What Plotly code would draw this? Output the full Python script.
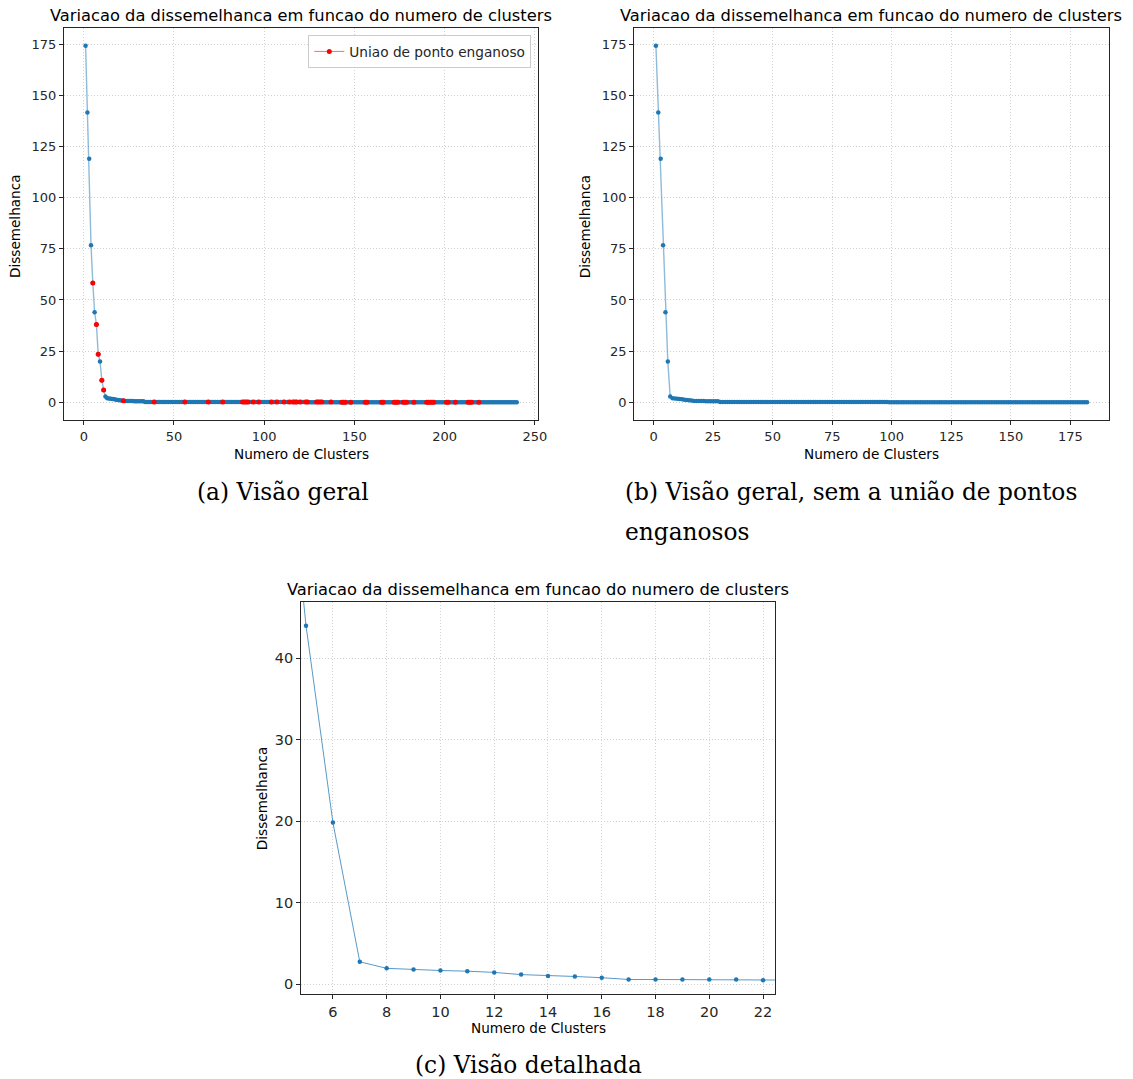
import plotly.graph_objects as go

# ---------------- data ----------------
# (b) dissimilarity per number of clusters, without misleading unions (182 points)
b_values = [
    174.3, 141.7, 119.0, 76.8, 44.0, 19.85, 2.75,
    1.95, 1.8, 1.68, 1.6, 1.45, 1.18, 1.02, 0.95, 0.8, 0.58, 0.58, 0.58, 0.58, 0.57, 0.5,
    0.49, 0.48, 0.47, 0.46, 0.45,
    0.14, 0.14, 0.14, 0.13, 0.13, 0.13, 0.13, 0.12, 0.12, 0.12,
    0.12, 0.12, 0.11, 0.11, 0.11, 0.11, 0.11, 0.11, 0.10, 0.10,
    0.10, 0.10, 0.10, 0.10, 0.10, 0.09, 0.09, 0.09, 0.09, 0.09,
    0.09, 0.09, 0.08, 0.08, 0.08, 0.08, 0.08, 0.08, 0.08, 0.08,
    0.07, 0.07, 0.07, 0.07, 0.07, 0.07, 0.07, 0.07, 0.07, 0.06,
    0.06, 0.06, 0.06, 0.06, 0.06, 0.06, 0.06, 0.06, 0.06, 0.06,
    0.05, 0.05, 0.05, 0.05, 0.05, 0.05, 0.05, 0.05, 0.05, 0.05,
    0.05, 0.04, 0.04, 0.04, 0.04, 0.04, 0.04, 0.04, 0.04, 0.04,
    0.04, 0.04, 0.04, 0.04, 0.03, 0.03, 0.03, 0.03, 0.03, 0.03,
    0.03, 0.03, 0.03, 0.03, 0.03, 0.03, 0.03, 0.03, 0.03, 0.02,
    0.02, 0.02, 0.02, 0.02, 0.02, 0.02, 0.02, 0.02, 0.02, 0.02,
    0.02, 0.02, 0.02, 0.02, 0.02, 0.02, 0.02, 0.01, 0.01, 0.01,
    0.01, 0.01, 0.01, 0.01, 0.01, 0.01, 0.01, 0.01, 0.01, 0.01,
    0.01, 0.01, 0.01, 0.01, 0.01, 0.01, 0.01, 0.01, 0.01, 0.01,
    0.01, 0.01, 0.01, 0.01, 0.01, 0.01, 0.01, 0.01, 0.01, 0.01,
    0.00, 0.00, 0.00, 0.00, 0.00,
]

# (a) misleading point unions: number of clusters and dissimilarity (red points)
red_x = [5, 7, 8, 10, 11, 22, 39, 56, 69, 77,
         88, 89, 90, 91, 94, 97, 104, 107, 111, 114,
         116, 117, 118, 120, 123, 124, 129, 130, 131, 132,
         137, 143, 144, 145, 148, 156, 157, 165, 166, 172,
         173, 174, 177, 178, 179, 183, 190, 191, 192, 193,
         194, 201, 202, 206, 213, 214, 215, 219]
red_y = [58.3, 38.0, 23.5, 10.8, 6.0, 0.7, 0.13, 0.11, 0.10, 0.09,
         0.08, 0.08, 0.08, 0.08, 0.08, 0.07, 0.07, 0.07, 0.06, 0.06,
         0.06, 0.06, 0.06, 0.06, 0.06, 0.06, 0.05, 0.05, 0.05, 0.05,
         0.05, 0.04, 0.04, 0.04, 0.04, 0.04, 0.04, 0.03, 0.03, 0.03,
         0.03, 0.03, 0.03, 0.03, 0.03, 0.02, 0.02, 0.02, 0.02, 0.02,
         0.02, 0.02, 0.02, 0.02, 0.01, 0.01, 0.01, 0.01]
n_total = 240

x_ticks_a = [0, 50, 100, 150, 200, 250]
x_ticks_b = [0, 25, 50, 75, 100, 125, 150, 175]
y_ticks_ab = [0, 25, 50, 75, 100, 125, 150, 175]
x_ticks_c = [6, 8, 10, 12, 14, 16, 18, 20, 22]
y_ticks_c = [0, 10, 20, 30, 40]

title_txt = "Variacao da dissemelhanca em funcao do numero de clusters"
xlab = "Numero de Clusters"
ylab = "Dissemelhanca"
legend_txt = "Uniao de ponto enganoso"

# ---------------- assemble series ----------------
red_map = dict(zip(red_x, red_y))
blue_iter = iter(b_values)
a_x, a_y = [], []
for k in range(1, n_total + 1):
    a_x.append(k)
    a_y.append(red_map[k] if k in red_map else next(blue_iter))
b_x = list(range(1, len(b_values) + 1))

BLUE = "#1f77b4"
LINE_AB = "rgba(31,119,180,0.5)"
LINE_C = "rgba(31,119,180,0.75)"

fig = go.Figure()
# panel a
fig.add_trace(go.Scatter(x=a_x, y=a_y, mode="lines+markers",
                         line=dict(color=LINE_AB, width=1.4),
                         marker=dict(color=BLUE, size=4.5),
                         showlegend=False, xaxis="x", yaxis="y"))
fig.add_trace(go.Scatter(x=red_x, y=red_y, mode="markers",
                         marker=dict(color="#ff0000", size=5),
                         showlegend=False, xaxis="x", yaxis="y"))
fig.add_trace(go.Scatter(x=[None], y=[None], mode="lines+markers", name=legend_txt,
                         line=dict(color="rgba(255,0,0,0.6)", width=1),
                         marker=dict(color="#ff0000", size=5),
                         showlegend=True, xaxis="x", yaxis="y"))
# panel b
fig.add_trace(go.Scatter(x=b_x, y=b_values, mode="lines+markers",
                         line=dict(color=LINE_AB, width=1.4),
                         marker=dict(color=BLUE, size=4.5),
                         showlegend=False, xaxis="x2", yaxis="y2"))
# panel c
fig.add_trace(go.Scatter(x=b_x, y=b_values, mode="lines+markers",
                         line=dict(color=LINE_C, width=1),
                         marker=dict(color=BLUE, size=4.5),
                         showlegend=False, xaxis="x3", yaxis="y3"))

W, H = 1133, 1079
SX = 0.9915  # observed horizontal rendering factor


def fx(px):
    return px / (W * SX)


def fy(py):
    return 1 - py / H


def axis_style(domain, rng, ticks, anchor, fs):
    return dict(domain=domain, range=rng, tickvals=ticks, anchor=anchor,
                showline=True, mirror=True, linecolor="#262626", linewidth=1.2,
                ticks="outside", ticklen=4, tickwidth=1, tickcolor="#262626",
                showgrid=True, gridcolor="#d0d0d0", griddash="1px,2px", gridwidth=1,
                zeroline=False, tickfont=dict(family="DejaVu Sans", size=fs, color="#262626"))


fig.update_layout(
    width=W, height=H, margin=dict(l=0, r=0, t=0, b=0),
    paper_bgcolor="white", plot_bgcolor="white",
    xaxis=axis_style([fx(64), fx(538)], [-10.95, 251.95], x_ticks_a, "y", 13),
    yaxis=axis_style([fy(420), fy(28)], [-8.7, 183.0], y_ticks_ab, "x", 13),
    xaxis2=axis_style([fx(634), fx(1108)], [-8.05, 191.05], x_ticks_b, "y2", 13),
    yaxis2=axis_style([fy(420), fy(28)], [-8.7, 183.0], y_ticks_ab, "x2", 13),
    xaxis3=axis_style([fx(301), fx(775)], [4.82, 22.46], x_ticks_c, "y3", 14.5),
    yaxis3=axis_style([fy(994), fy(602)], [-1.2, 46.9], y_ticks_c, "x3", 14.5),
    legend=dict(x=fx(531), xanchor="right", y=fy(35), yanchor="top",
                bgcolor="rgba(255,255,255,0.85)", bordercolor="#cccccc", borderwidth=1,
                font=dict(family="DejaVu Sans", size=13.7, color="#262626")),
    font=dict(family="DejaVu Sans"),
)

ann = []


def txt(x, y, s, size, family="DejaVu Sans", angle=0, xanchor="center", color="#000000"):
    ann.append(dict(x=fx(x), y=fy(y), xref="paper", yref="paper", text=s, showarrow=False,
                    textangle=angle, xanchor=xanchor, yanchor="middle",
                    font=dict(family=family, size=size, color=color)))


# titles
txt(301, 15, title_txt, 16.3)
txt(871, 15, title_txt, 16.3)
txt(538, 589, title_txt, 16.3)
# axis labels
txt(301, 454, xlab, 13.6)
txt(871, 454, xlab, 13.6)
txt(538, 1028, xlab, 13.6)
txt(15, 226, ylab, 13.6, angle=-90)
txt(585, 226, ylab, 13.6, angle=-90)
txt(262, 798, ylab, 13.6, angle=-90)
# captions
SERIF = "DejaVu Serif"
txt(283, 491, "(a) Visão geral", 23.3, family=SERIF)
txt(623, 491, "(b) Visão geral, sem a união de pontos", 23.3, family=SERIF, xanchor="left")
txt(623, 531, "enganosos", 23.3, family=SERIF, xanchor="left")
txt(528, 1064, "(c) Visão detalhada", 23.3, family=SERIF)

fig.update_layout(annotations=ann)

fig.write_html(
    "out.html",
    config={"displayModeBar": False},
    post_script=("document.body.style.margin='0';"
                 "document.body.style.overflow='hidden';"
                 "document.documentElement.style.overflow='hidden';"),
)
